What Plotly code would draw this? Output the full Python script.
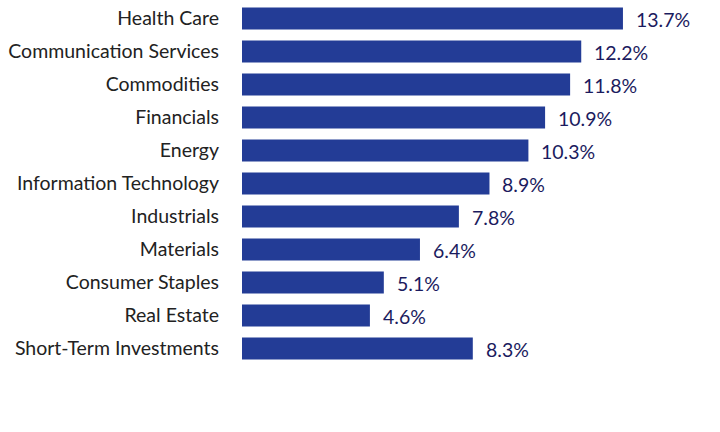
import plotly.graph_objects as go

categories = ["Health Care", "Communication Services", "Commodities", "Financials", "Energy",
              "Information Technology", "Industrials", "Materials", "Consumer Staples",
              "Real Estate", "Short-Term Investments"]
values = [13.7, 12.2, 11.8, 10.9, 10.3, 8.9, 7.8, 6.4, 5.1, 4.6, 8.3]
value_labels = [f"{v:.1f}%" for v in values]

FONT = "Lato"
fig = go.Figure()
fig.add_trace(go.Bar(
    x=values, y=categories, orientation="h",
    marker=dict(color="#233C96", line=dict(width=0)),
    width=0.67, hoverinfo="skip",
))
for c, v, t in zip(categories, values, value_labels):
    fig.add_annotation(x=v, y=c, text=t, showarrow=False, xanchor="left", xshift=11, yshift=-1,
                       font=dict(family=FONT, size=19.5, color="#1B1B5E"))

fig.update_layout(
    width=720, height=432,
    margin=dict(l=242, r=0, t=2, b=67),
    paper_bgcolor="white", plot_bgcolor="white",
    showlegend=False,
    xaxis=dict(range=[0, 17.19], visible=False, fixedrange=True),
    yaxis=dict(categoryorder="array", categoryarray=categories, autorange="reversed",
               showgrid=False, showline=False, zeroline=False, ticks="",
               ticklabelstandoff=22,
               tickfont=dict(family=FONT, size=19.5, color="#222222")),
)
fig.write_html("out.html")
